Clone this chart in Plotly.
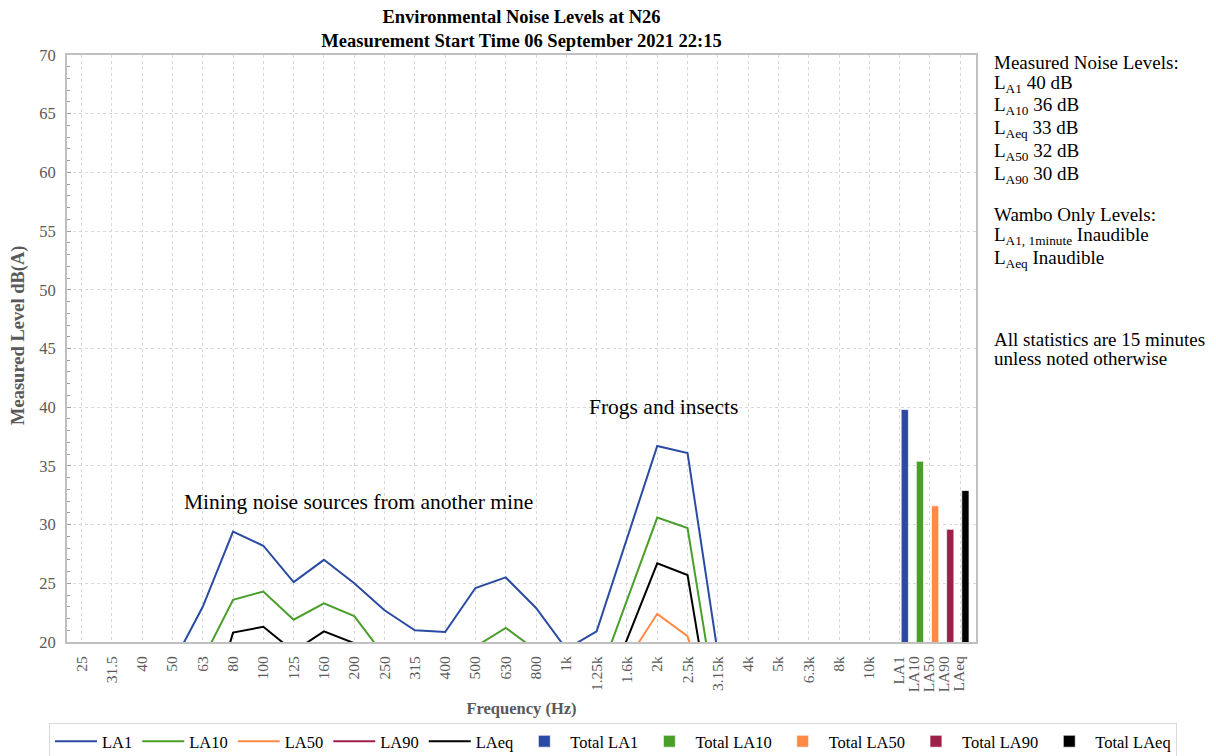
import plotly.graph_objects as go

freqs = ["25", "31.5", "40", "50", "63", "80", "100", "125", "160", "200", "250", "315",
         "400", "500", "630", "800", "1k", "1.25k", "1.6k", "2k", "2.5k", "3.15k",
         "4k", "5k", "6.3k", "8k", "10k"]

la1 = [14.5, 15.2, 16.0, 18.1, 23.0, 29.4, 28.2, 25.1, 27.0, 25.0, 22.7, 21.0, 20.85,
       24.6, 25.5, 22.9, 19.4, 20.9, 28.8, 36.7, 36.1, 19.0, 15.0, 14.0, 13.0, 12.0, 11.0]
la10 = [11.0, 12.0, 13.0, 15.0, 18.5, 23.6, 24.3, 21.9, 23.3, 22.2, 18.8, 17.5, 17.0,
        19.6, 21.2, 19.3, 16.5, 16.5, 23.6, 30.6, 29.7, 13.8, 10.0, 9.0, 8.0, 7.0, 6.0]
la50 = [8.0, 9.0, 10.0, 11.5, 14.0, 17.5, 18.0, 16.0, 17.5, 16.5, 14.0, 13.0, 12.5,
        14.5, 16.0, 14.5, 12.0, 12.5, 18.4, 22.4, 20.5, 12.0, 7.0, 6.0, 5.5, 5.0, 4.5]
la90 = [6.0, 7.0, 8.0, 9.5, 12.0, 15.5, 16.0, 14.0, 15.5, 14.5, 12.0, 11.0, 10.5,
        12.5, 14.0, 12.5, 10.0, 10.5, 16.0, 19.0, 17.5, 9.0, 5.0, 4.5, 4.0, 3.5, 3.0]
laeq = [10.0, 11.0, 12.0, 13.0, 12.0, 20.8, 21.3, 19.2, 20.9, 19.9, 17.5, 16.0, 15.5,
        17.5, 18.5, 17.0, 14.5, 14.0, 20.2, 26.7, 25.7, 10.3, 8.0, 7.0, 6.0, 5.0, 5.0]

total_labels = ["LA1", "LA10", "LA50", "LA90", "LAeq"]
total_values = [39.8, 35.4, 31.6, 29.6, 32.9]

line_names = ["LA1", "LA10", "LA50", "LA90", "LAeq"]
line_series = [la1, la10, la50, la90, laeq]
colors = ["#2B4BA3", "#4A9E2A", "#FF8A45", "#9E1F48", "#000000"]

FONT = "Liberation Serif"
GRAY = "#595959"

# The page body has an 8px margin, so the figure is drawn 8px in from the window edge.
OFF = 8
W, H = 1216 - OFF, 756 - OFF
# plot area in window pixels -> figure pixels
PL, PR, PT, PB = 67 - OFF, 976 - OFF, 55 - OFF, 642 - OFF
PW, PH = PR - PL, PB - PT


def px_x(x):  # window px -> paper x
    return (x - OFF - PL) / PW


def px_y(y):  # window px -> paper y
    return (PB - (y - OFF)) / PH


fig = go.Figure()
xs = list(range(len(freqs)))
for name, vals, c in zip(line_names, line_series, colors):
    fig.add_trace(go.Scatter(x=xs, y=vals, mode="lines", name=name,
                             line=dict(color=c, width=2)))

n = len(freqs)
bar_x = [n + 0.17 + 0.5 * i for i in range(len(total_values))]
for lab, v, c, bx in zip(total_labels, total_values, colors, bar_x):
    fig.add_trace(go.Bar(x=[bx], y=[v], name="Total " + lab, width=0.24,
                         marker=dict(color=c, line=dict(color="rgba(255,255,255,0.7)", width=1))))

tickvals = xs + [b - 0.2 for b in bar_x]
ticktext = freqs + total_labels

fig.update_layout(
    width=W, height=H,
    margin=dict(l=PL, r=W - PR, t=PT, b=H - PB, autoexpand=False),
    paper_bgcolor="white", plot_bgcolor="white",
    font=dict(family=FONT, size=15, color=GRAY),
    barmode="overlay",
    title=dict(text="<b>Environmental Noise Levels at N26<br>Measurement Start Time 06 September 2021 22:15</b>",
               x=(PL + PR) / 2 / W, xanchor="center", y=1 - 15 / H, yanchor="top",
               font=dict(family=FONT, size=18.5, color="black")),
    legend=dict(orientation="h", x=px_x(1177), xanchor="right", y=px_y(723), yanchor="top",
                bordercolor="#d9d9d9", borderwidth=1, itemwidth=42,
                font=dict(family=FONT, size=16.5, color="black"), traceorder="normal"),
    showlegend=True,
)

fig.update_xaxes(
    range=[-0.48, 29.52], tickmode="array", tickvals=tickvals, ticktext=ticktext,
    tickangle=-90, showgrid=False, zeroline=False, automargin=False,
    showline=True, linecolor="#c0c0c0", linewidth=2, mirror=True,
    ticks="", ticklabelstandoff=6, tickfont=dict(family=FONT, size=15.5, color=GRAY),
    minor=dict(dtick=1, tick0=0, showgrid=True, gridcolor="#d9d9d9", griddash="dot", gridwidth=1),
    title=dict(text="<b>Frequency (Hz)</b>", font=dict(family=FONT, size=16.5, color=GRAY), standoff=11),
)
fig.update_yaxes(
    range=[20, 70], dtick=5, tick0=20, showgrid=True, gridcolor="#d9d9d9", griddash="dot",
    zeroline=False, showline=True, linecolor="#c0c0c0", linewidth=2, mirror=True, automargin=False,
    ticks="inside", ticklen=4, tickcolor="#a0a0a0", ticklabelstandoff=6,
    minor=dict(dtick=1, ticks="inside", ticklen=3, tickcolor="#a0a0a0", showgrid=False),
    tickfont=dict(family=FONT, size=16.5, color=GRAY),
)

# y-axis title placed as a rotated annotation to match the reference position
fig.add_annotation(x=px_x(18), y=px_y(335), xref="paper", yref="paper", textangle=-90,
                   text="<b>Measured Level dB(A)</b>", showarrow=False,
                   xanchor="center", yanchor="middle",
                   font=dict(family=FONT, size=18.5, color=GRAY))

fig.add_annotation(x=9.13, y=31.9, xref="x", yref="y", text="Mining noise sources from another mine",
                   showarrow=False, font=dict(family=FONT, size=21.5, color="black"))
fig.add_annotation(x=19.2, y=40.0, xref="x", yref="y", text="Frogs and insects",
                   showarrow=False, font=dict(family=FONT, size=21.5, color="black"))

right_lines = [
    ("Measured Noise Levels:", 62),
    ("L<sub>A1</sub> 40 dB", 84),
    ("L<sub>A10</sub> 36 dB", 106),
    ("L<sub>Aeq</sub> 33 dB", 129),
    ("L<sub>A50</sub> 32 dB", 152),
    ("L<sub>A90</sub> 30 dB", 175),
    ("Wambo Only Levels:", 214),
    ("L<sub>A1, 1minute</sub> Inaudible", 236),
    ("L<sub>Aeq</sub> Inaudible", 259),
    ("All statistics are 15 minutes", 339),
    ("unless noted otherwise", 358),
]
for txt, ypx in right_lines:
    fig.add_annotation(x=px_x(992), y=px_y(ypx), xref="paper", yref="paper",
                       xanchor="left", yanchor="middle", text=txt, showarrow=False,
                       font=dict(family=FONT, size=19, color="black"))

fig.write_html("out.html")
